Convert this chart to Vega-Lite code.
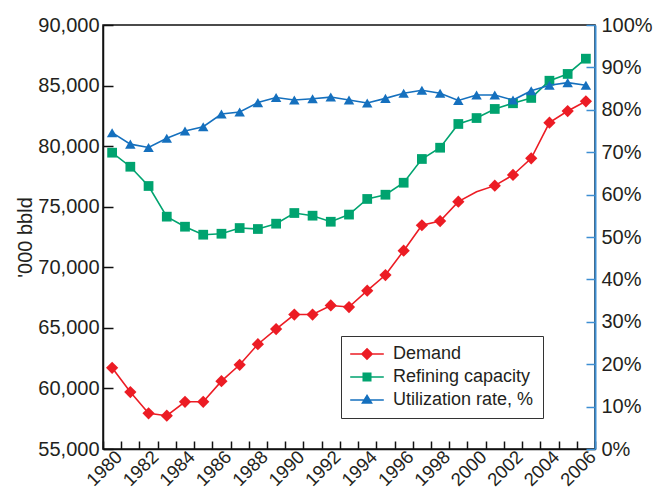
{
  "$schema": "https://vega.github.io/schema/vega-lite/v6.json",
  "autosize": "none",
  "width": 492,
  "height": 424,
  "padding": {"left": 103, "top": 25, "right": 75, "bottom": 43},
  "background": "white",
  "config": {
    "font": "Liberation Sans, Arial, Helvetica, sans-serif",
    "view": {"stroke": "#111111", "strokeWidth": 1.5},
    "axis": {"labelColor": "#231f20", "titleColor": "#231f20", "grid": false}
  },
  "data": {
    "values": [
      {"year": 1980, "series": "Demand", "value": 61700},
      {"year": 1981, "series": "Demand", "value": 59700},
      {"year": 1982, "series": "Demand", "value": 57950},
      {"year": 1983, "series": "Demand", "value": 57750},
      {"year": 1984, "series": "Demand", "value": 58900},
      {"year": 1985, "series": "Demand", "value": 58900},
      {"year": 1986, "series": "Demand", "value": 60600},
      {"year": 1987, "series": "Demand", "value": 61950},
      {"year": 1988, "series": "Demand", "value": 63650},
      {"year": 1989, "series": "Demand", "value": 64900},
      {"year": 1990, "series": "Demand", "value": 66100},
      {"year": 1991, "series": "Demand", "value": 66100},
      {"year": 1992, "series": "Demand", "value": 66850},
      {"year": 1993, "series": "Demand", "value": 66720},
      {"year": 1994, "series": "Demand", "value": 68070},
      {"year": 1995, "series": "Demand", "value": 69360},
      {"year": 1996, "series": "Demand", "value": 71370},
      {"year": 1997, "series": "Demand", "value": 73470},
      {"year": 1998, "series": "Demand", "value": 73820},
      {"year": 1999, "series": "Demand", "value": 75420},
      {"year": 2000, "series": "Demand", "value": 76240},
      {"year": 2001, "series": "Demand", "value": 76740},
      {"year": 2002, "series": "Demand", "value": 77620},
      {"year": 2003, "series": "Demand", "value": 79000},
      {"year": 2004, "series": "Demand", "value": 81940},
      {"year": 2005, "series": "Demand", "value": 82900},
      {"year": 2006, "series": "Demand", "value": 83700},
      {"year": 1980, "series": "Refining capacity", "value": 79460},
      {"year": 1981, "series": "Refining capacity", "value": 78300},
      {"year": 1982, "series": "Refining capacity", "value": 76710},
      {"year": 1983, "series": "Refining capacity", "value": 74180},
      {"year": 1984, "series": "Refining capacity", "value": 73350},
      {"year": 1985, "series": "Refining capacity", "value": 72690},
      {"year": 1986, "series": "Refining capacity", "value": 72770},
      {"year": 1987, "series": "Refining capacity", "value": 73240},
      {"year": 1988, "series": "Refining capacity", "value": 73160},
      {"year": 1989, "series": "Refining capacity", "value": 73600},
      {"year": 1990, "series": "Refining capacity", "value": 74480},
      {"year": 1991, "series": "Refining capacity", "value": 74260},
      {"year": 1992, "series": "Refining capacity", "value": 73760},
      {"year": 1993, "series": "Refining capacity", "value": 74350},
      {"year": 1994, "series": "Refining capacity", "value": 75640},
      {"year": 1995, "series": "Refining capacity", "value": 75990},
      {"year": 1996, "series": "Refining capacity", "value": 76980},
      {"year": 1997, "series": "Refining capacity", "value": 78940},
      {"year": 1998, "series": "Refining capacity", "value": 79870},
      {"year": 1999, "series": "Refining capacity", "value": 81830},
      {"year": 2000, "series": "Refining capacity", "value": 82320},
      {"year": 2001, "series": "Refining capacity", "value": 83070},
      {"year": 2002, "series": "Refining capacity", "value": 83540},
      {"year": 2003, "series": "Refining capacity", "value": 83980},
      {"year": 2004, "series": "Refining capacity", "value": 85400},
      {"year": 2005, "series": "Refining capacity", "value": 85960},
      {"year": 2006, "series": "Refining capacity", "value": 87220},
      {"year": 1980, "series": "Utilization rate, %", "value": 74.6},
      {"year": 1981, "series": "Utilization rate, %", "value": 71.9},
      {"year": 1982, "series": "Utilization rate, %", "value": 71.1},
      {"year": 1983, "series": "Utilization rate, %", "value": 73.3},
      {"year": 1984, "series": "Utilization rate, %", "value": 75.0},
      {"year": 1985, "series": "Utilization rate, %", "value": 76.0},
      {"year": 1986, "series": "Utilization rate, %", "value": 79.0},
      {"year": 1987, "series": "Utilization rate, %", "value": 79.5},
      {"year": 1988, "series": "Utilization rate, %", "value": 81.7},
      {"year": 1989, "series": "Utilization rate, %", "value": 82.9},
      {"year": 1990, "series": "Utilization rate, %", "value": 82.3},
      {"year": 1991, "series": "Utilization rate, %", "value": 82.6},
      {"year": 1992, "series": "Utilization rate, %", "value": 83.0},
      {"year": 1993, "series": "Utilization rate, %", "value": 82.3},
      {"year": 1994, "series": "Utilization rate, %", "value": 81.6},
      {"year": 1995, "series": "Utilization rate, %", "value": 82.7},
      {"year": 1996, "series": "Utilization rate, %", "value": 83.9},
      {"year": 1997, "series": "Utilization rate, %", "value": 84.6},
      {"year": 1998, "series": "Utilization rate, %", "value": 83.9},
      {"year": 1999, "series": "Utilization rate, %", "value": 82.2},
      {"year": 2000, "series": "Utilization rate, %", "value": 83.5},
      {"year": 2001, "series": "Utilization rate, %", "value": 83.5},
      {"year": 2002, "series": "Utilization rate, %", "value": 82.3},
      {"year": 2003, "series": "Utilization rate, %", "value": 84.5},
      {"year": 2004, "series": "Utilization rate, %", "value": 85.8},
      {"year": 2005, "series": "Utilization rate, %", "value": 86.4},
      {"year": 2006, "series": "Utilization rate, %", "value": 85.8}
    ]
  },
  "encoding": {
    "x": {
      "field": "year",
      "type": "ordinal",
      "scale": {"type": "band", "paddingInner": 0, "paddingOuter": 0},
      "axis": {
        "title": null,
        "tickBand": "extent",
        "tickSize": -8,
        "tickWidth": 1.5,
        "tickColor": "#111111",
        "domainColor": "#111111",
        "domainWidth": 1.5,
        "labelAngle": -45,
        "labelAlign": "right",
        "labelBaseline": "top",
        "labelPadding": 6,
        "labelFontSize": 18.5,
        "labelOverlap": false,
        "labelExpr": "datum.value % 2 === 0 ? datum.label : ''"
      }
    },
    "color": {
      "field": "series",
      "type": "nominal",
      "scale": {
        "domain": ["Demand", "Refining capacity", "Utilization rate, %"],
        "range": ["#ec1c24", "#00a36f", "#1570be"]
      },
      "legend": {
        "orient": "none",
        "legendX": 238,
        "legendY": 311,
        "title": null,
        "fillColor": "white",
        "strokeColor": "#333333",
        "padding": 9,
        "symbolSize": 144,
        "symbolOffset": 8,
        "symbolStrokeWidth": 1.6,
        "symbolOpacity": 1,
        "labelFontSize": 18,
        "labelColor": "#231f20",
        "labelOffset": 17,
        "labelExpr": "datum.label + '    '",
        "rowPadding": 5
      }
    }
  },
  "layer": [
    {
      "transform": [{"filter": "datum.series !== 'Utilization rate, %'"}],
      "encoding": {
        "y": {
          "field": "value",
          "type": "quantitative",
          "scale": {"domain": [55000, 90000], "nice": false, "zero": false},
          "axis": {
            "title": "'000 bbld",
            "titleFontSize": 20,
            "titleFontWeight": "normal",
            "titlePadding": 2,
            "values": [55000, 60000, 65000, 70000, 75000, 80000, 85000, 90000],
            "format": ",.0f",
            "tickSize": -10,
            "tickWidth": 1.5,
            "tickColor": "#111111",
            "domainColor": "#111111",
            "domainWidth": 1.5,
            "labelPadding": 14,
            "labelFontSize": 20
          }
        }
      },
      "layer": [
        {
          "transform": [{"filter": "false"}],
          "mark": {"type": "point", "filled": true, "opacity": 1},
          "encoding": {
            "shape": {
              "field": "series",
              "type": "nominal",
              "scale": {
                "domain": ["Demand", "Refining capacity", "Utilization rate, %"],
                "range": [
                  "M-2.8,0H2.8M0,-0.85L0.85,0L0,0.85L-0.85,0Z",
                  "M-2.8,0H2.8M-0.62,-0.62H0.62V0.62H-0.62Z",
                  "M-2.8,0H2.8M0,-0.75L0.75,0.5L-0.75,0.5Z"
                ]
              }
            }
          }
        },
        {"mark": {"type": "line", "strokeWidth": 1.6}},
        {
          "transform": [{"filter": "datum.series === 'Demand' && datum.year !== 2000"}],
          "mark": {"type": "point", "filled": true, "opacity": 1, "shape": "diamond", "size": 150}
        },
        {
          "transform": [{"filter": "datum.series === 'Refining capacity'"}],
          "mark": {"type": "point", "filled": true, "opacity": 1, "shape": "square", "size": 95}
        }
      ]
    },
    {
      "transform": [{"filter": "datum.series === 'Utilization rate, %'"}],
      "encoding": {
        "y": {
          "field": "value",
          "type": "quantitative",
          "scale": {"domain": [0, 100], "nice": false},
          "axis": {
            "orient": "right",
            "title": null,
            "values": [0, 10, 20, 30, 40, 50, 60, 70, 80, 90, 100],
            "labelExpr": "datum.value + '%'",
            "tickSize": -9,
            "tickWidth": 1.5,
            "tickColor": "#3d8ed2",
            "domainColor": "#3d8ed2",
            "domainWidth": 2,
            "labelPadding": 15,
            "labelFontSize": 20
          }
        }
      },
      "layer": [
        {"mark": {"type": "line", "strokeWidth": 1.6}},
        {"mark": {"type": "point", "filled": true, "opacity": 1, "shape": "triangle-up", "size": 110}}
      ]
    }
  ],
  "resolve": {"scale": {"y": "independent"}, "axis": {"y": "independent"}}
}
